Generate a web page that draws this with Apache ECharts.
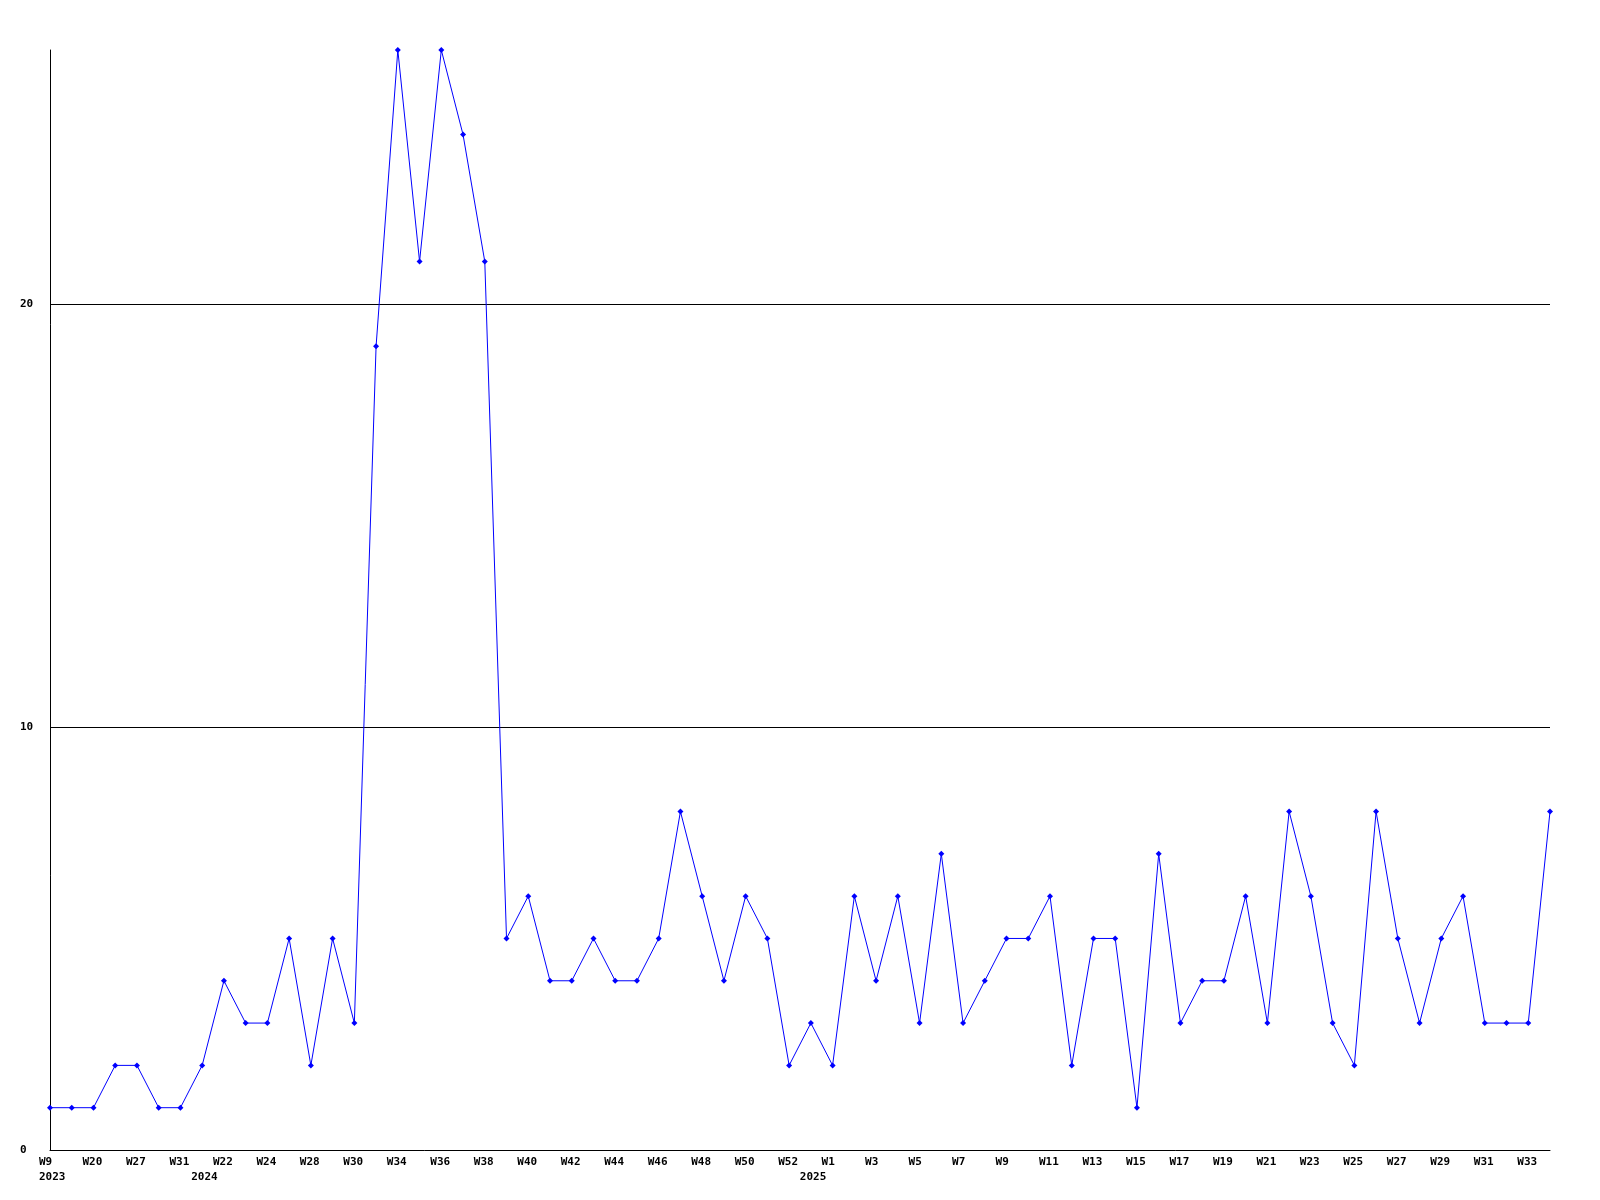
<!DOCTYPE html>
<html>
<head>
<meta charset="utf-8">
<script src="https://cdn.jsdelivr.net/npm/echarts@6/dist/echarts.min.js"></script>
<style>
html,body{margin:0;padding:0;background:#fff;}
#chart{width:1600px;height:1200px;}
</style>
</head>
<body>
<div id="chart"></div>
<script>
// Week tick labels (every other point is labelled in the source)
const weekLabels = [
  'W9','', 'W20','', 'W27','', 'W31','',
  'W22','', 'W24','', 'W28','', 'W30','', 'W34','', 'W36','', 'W38','',
  'W40','', 'W42','', 'W44','', 'W46','', 'W48','', 'W50','', 'W52','',
  'W1','', 'W3','', 'W5','', 'W7','', 'W9','', 'W11','', 'W13','', 'W15','',
  'W17','', 'W19','', 'W21','', 'W23','', 'W25','', 'W27','', 'W29','', 'W31','', 'W33',''
];
// Year labels under the week labels
const yearLabels = weekLabels.map(() => '');
yearLabels[0] = '2023';
yearLabels[7] = '2024';
yearLabels[35] = '2025';

// Series values
const counts = [
  1, 1, 1, 2, 2, 1, 1, 2, 4, 3,
  3, 5, 2, 5, 3, 19, 26, 21, 26, 24,
  21, 5, 6, 4, 4, 5, 4, 4, 5, 8,
  6, 4, 6, 5, 2, 3, 2, 6, 4, 6,
  3, 7, 3, 4, 5, 5, 6, 2, 5, 5,
  1, 7, 3, 4, 4, 6, 3, 8, 6, 3,
  2, 8, 5, 3, 5, 6, 3, 3, 3, 8
];

const yTicks = { min: 0, max: 26, interval: 10 };

const font = { fontFamily: 'DejaVu Sans Mono', fontWeight: 'bold', fontSize: 11, color: '#000' };

const chart = echarts.init(document.getElementById('chart'), null, { renderer: 'canvas' });
chart.setOption({
  animation: false,
  backgroundColor: '#fff',
  grid: { left: 50, right: 50, top: 50, bottom: 50, containLabel: false },
  xAxis: [
    {
      type: 'category',
      data: weekLabels,
      boundaryGap: false,
      axisLine: { show: true, lineStyle: { color: '#000', width: 1 } },
      axisTick: { show: false },
      splitLine: { show: false },
      axisLabel: Object.assign({
        interval: 0,
        margin: 7,
        formatter: v => v ? '{a|' + v + '}' : '',
        rich: { a: Object.assign({ width: 22, align: 'left' }, font) }
      }, font)
    },
    {
      type: 'category',
      data: yearLabels,
      boundaryGap: false,
      position: 'bottom',
      axisLine: { show: false },
      axisTick: { show: false },
      splitLine: { show: false },
      axisLabel: Object.assign({
        interval: 0,
        margin: 22,
        formatter: v => v ? '{a|' + v + '}' : '',
        rich: { a: Object.assign({ width: 22, align: 'left' }, font) }
      }, font)
    }
  ],
  yAxis: {
    type: 'value',
    min: yTicks.min,
    max: yTicks.max,
    interval: yTicks.interval,
    axisLine: { show: true, lineStyle: { color: '#000', width: 1 } },
    axisTick: { show: false },
    splitLine: { show: true, showMinLine: false, showMaxLine: false, lineStyle: { color: '#000', width: 1 } },
    axisLabel: Object.assign({ align: 'left', margin: 30, showMaxLabel: false }, font)
  },
  series: [{
    type: 'line',
    xAxisIndex: 0,
    data: counts,
    symbol: 'diamond',
    symbolSize: 6,
    showAllSymbol: true,
    lineStyle: { color: '#0000ff', width: 1 },
    itemStyle: { color: '#0000ff' },
    emphasis: { disabled: true }
  }]
});
</script>
</body>
</html>
